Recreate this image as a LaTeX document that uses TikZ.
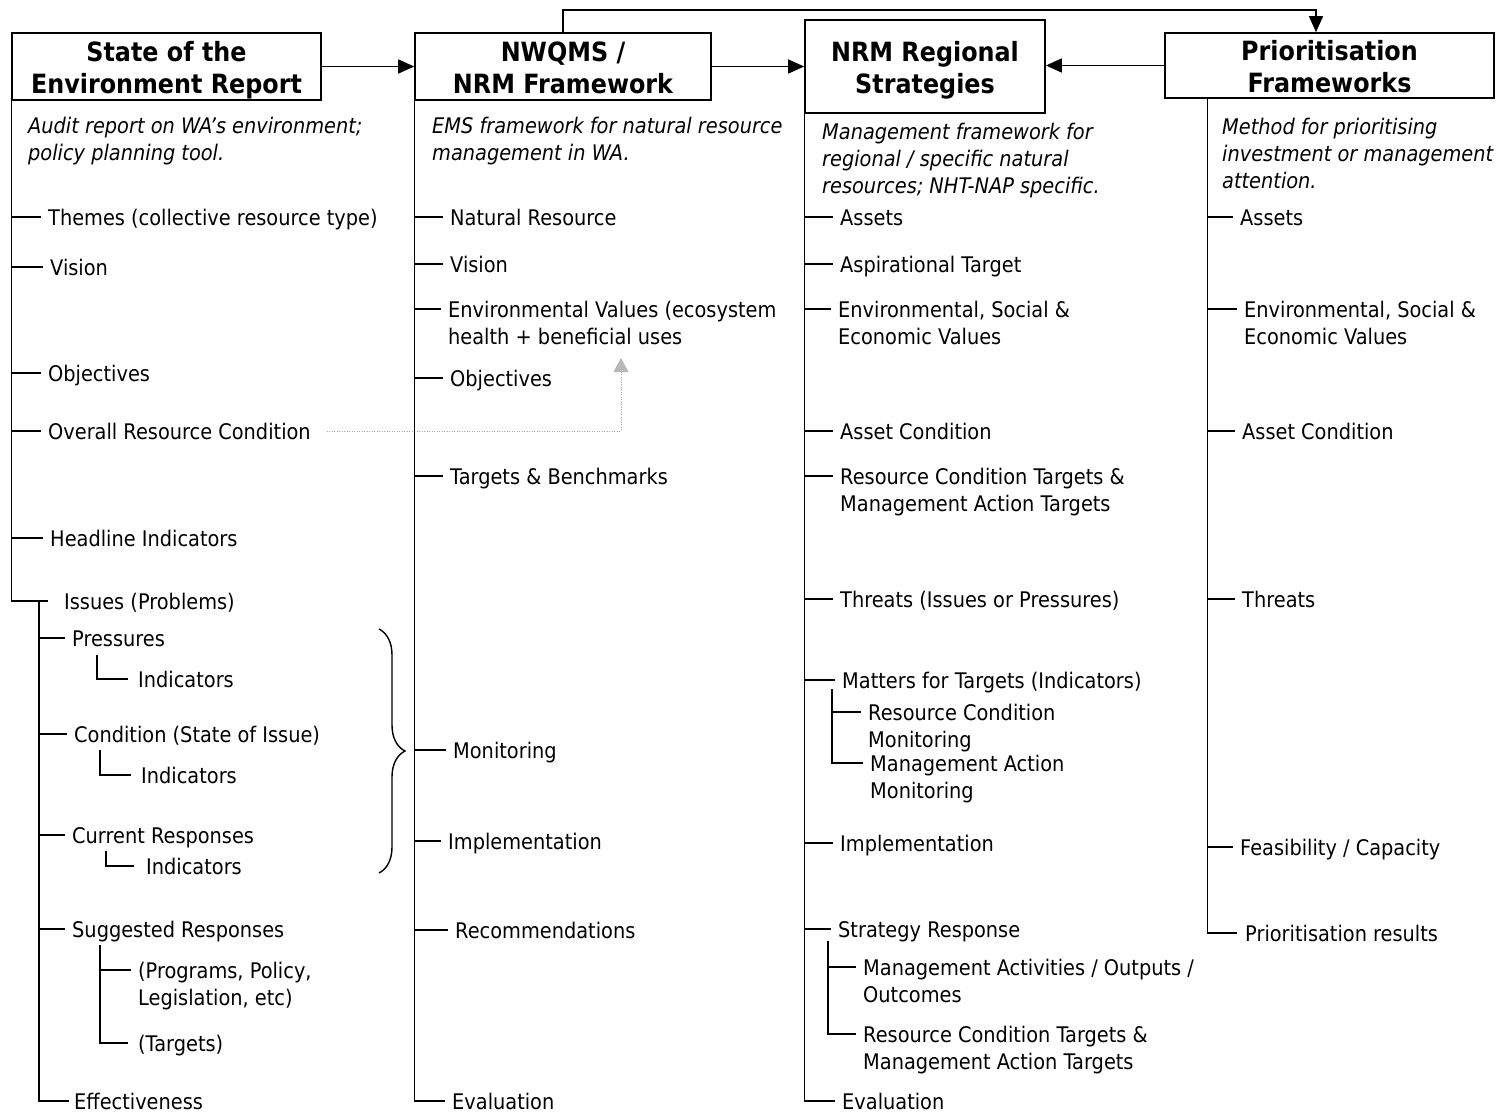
\documentclass[tikz,border=0pt]{standalone}
\usepackage{fontspec}
\setmainfont{DejaVu Sans}[FakeStretch=0.9]
\usetikzlibrary{arrows.meta,decorations.pathreplacing}
\newcommand\lblfont{\fontsize{21.5}{27}\selectfont}
\newcommand\dscfont{\fontsize{21.5}{27}\selectfont\itshape}
\newcommand\hdfont{\fontsize{26.5}{32}\selectfont\bfseries}
\newcommand\hdstrut{\rule{0pt}{27.5pt}}
\newcommand\hddepth{\rule[-5.5pt]{0pt}{5.5pt}}
% leaf: name, trunk coordinate, y (line centre), text x, text
\newcommand\leaf[5]{%
  \node[lbl] (#1) at (#4,#3+8) {#5};
  \coordinate (#1-in) at ([xshift=-7pt,yshift=8pt]#1.base west);
  \draw[tree] (#2 |- #1-in) -- (#1-in);}
% second line of a leaf: name, y of first line, text x, text
\newcommand\lcont[4]{\node[lbl] (#1) at (#3,#2+35) {#4};}
\begin{document}
\begin{tikzpicture}[x=1pt,y=-1pt,
  tree/.style={line width=1.4pt},
  lbl/.style={anchor=base west,inner sep=0pt,font=\lblfont},
  dsc/.style={anchor=base west,inner sep=0pt,font=\dscfont},
  hdr/.style={draw,line width=1.6pt,align=center,font=\hdfont,inner sep=0pt},
  arr/.style={line width=1.4pt,-{Triangle[length=16pt,width=14pt]}},
  gdot/.style={draw=black!35,line width=1pt,dash pattern=on 1pt off 1.5pt,
    -{Triangle[length=14pt,width=15pt,color=black!28,fill=black!28]}}]
\useasboundingbox (0,0) rectangle (1501,1114);
% ---------- header boxes ----------
\node[hdr,minimum width=309pt,minimum height=67pt] (soe) at (166.5,66.5) {\hdstrut State of the\\Environment Report\hddepth};
\node[hdr,minimum width=296pt,minimum height=67pt] (nw) at (563,66.5) {\hdstrut NWQMS /\\NRM Framework\hddepth};
\node[hdr,minimum width=240pt,minimum height=93pt] (nrm) at (925,66.5) {\hdstrut NRM Regional\\Strategies\hddepth};
\node[hdr,minimum width=329pt,minimum height=65pt] (pri) at (1329.5,65.5) {\hdstrut Prioritisation\\Frameworks\hddepth};
\draw[arr] (soe.east) -- (nw.west);
\draw[arr] (nw.east) -- (nrm.west);
\draw[arr] (pri.west) -- (nrm.east |- pri.west);
\coordinate (topc) at (1316,10);
\draw[arr] (nw.north) |- (topc) -- (topc |- pri.north);
% ---------- descriptions ----------
\node[dsc] (soeD1) at (28,133) {Audit report on WA’s environment;};
\node[dsc] (soeD2) at (28,160) {policy planning tool.};
\node[dsc] (nwD1) at (432,133) {EMS framework for natural resource};
\node[dsc] (nwD2) at (432,160) {management in WA.};
\node[dsc] (nrmD1) at (822,139) {Management framework for};
\node[dsc] (nrmD2) at (822,166) {regional / specific natural};
\node[dsc] (nrmD3) at (822,193) {resources; NHT-NAP specific.};
\node[dsc] (priD1) at (1222,134) {Method for prioritising};
\node[dsc] (priD2) at (1222,161) {investment or management};
\node[dsc] (priD3) at (1222,188) {attention.};
% ---------- State of the Environment column ----------
\leaf{s1}{soe.south west}{217}{48}{Themes (collective resource type)}
\leaf{s2}{soe.south west}{267}{50}{Vision}
\leaf{s3}{soe.south west}{373}{48}{Objectives}
\leaf{s4}{soe.south west}{431}{48}{Overall Resource Condition}
\leaf{s5}{soe.south west}{538}{50}{Headline Indicators}
\node[lbl] (iss) at (64,609) {Issues (Problems)};
\coordinate (iss-in) at ([xshift=-16pt,yshift=8pt]iss.base west);
\draw[tree] (soe.south west) |- (iss-in);
\coordinate (isT) at (39,601);
\leaf{p1}{isT}{638}{72}{Pressures}
\leaf{c1}{isT}{734}{74}{Condition (State of Issue)}
\leaf{r1}{isT}{835}{72}{Current Responses}
\leaf{g1}{isT}{929}{72}{Suggested Responses}
\node[lbl] (eff) at (74,1109) {Effectiveness};
\coordinate (eff-in) at ([xshift=-5pt,yshift=8pt]eff.base west);
\draw[tree] (isT) |- (eff-in);
% indicators
\node[lbl] (p2) at (138,687) {Indicators};
\draw[tree] ([xshift=25pt,yshift=-9pt]p1.base west) |- ([xshift=-10pt,yshift=8pt]p2.base west);
\node[lbl] (c2) at (141,783) {Indicators};
\draw[tree] ([xshift=26pt,yshift=-8pt]c1.base west) |- ([xshift=-10pt,yshift=8pt]c2.base west);
\node[lbl] (r2) at (146,874) {Indicators};
\draw[tree] ([xshift=34pt,yshift=-8pt]r1.base west) |- ([xshift=-12pt,yshift=8pt]r2.base west);
\coordinate (gT) at ([xshift=28pt,yshift=-8pt]g1.base west);
\leaf{g2}{gT}{970}{138}{(Programs, Policy,}
\lcont{g2b}{970}{138}{Legislation, etc)}
\node[lbl] (g3) at (138,1051) {(Targets)};
\coordinate (g3-in) at ([xshift=-10pt,yshift=8pt]g3.base west);
\draw[tree] (gT) |- (g3-in);
% brace
\draw[tree,decorate,decoration={brace,amplitude=26pt}] (379,629) -- (379,873);
% dotted link
\coordinate (s4e) at ([xshift=16pt,yshift=8pt]s4.base east);
\coordinate (evt) at (621,358);
\draw[gdot] (s4e) -| (evt);
% ---------- NWQMS column ----------
\leaf{n1}{nw.south west}{217}{450}{Natural Resource}
\leaf{n2}{nw.south west}{264}{450}{Vision}
\leaf{n3}{nw.south west}{309}{448}{Environmental Values (ecosystem}
\lcont{n3b}{309}{448}{health + beneficial uses}
\leaf{n4}{nw.south west}{378}{450}{Objectives}
\leaf{n5}{nw.south west}{476}{450}{Targets \& Benchmarks}
\leaf{n6}{nw.south west}{750}{453}{Monitoring}
\leaf{n7}{nw.south west}{841}{448}{Implementation}
\leaf{n8}{nw.south west}{930}{455}{Recommendations}
\node[lbl] (n9) at (452,1109) {Evaluation};
\coordinate (n9-in) at ([xshift=-7pt,yshift=8pt]n9.base west);
\draw[tree] (nw.south west) |- (n9-in);
% ---------- NRM column ----------
\leaf{m1}{nrm.south west}{217}{840}{Assets}
\leaf{m2}{nrm.south west}{264}{840}{Aspirational Target}
\leaf{m3}{nrm.south west}{309}{838}{Environmental, Social \&}
\lcont{m3b}{309}{838}{Economic Values}
\leaf{m4}{nrm.south west}{431}{840}{Asset Condition}
\leaf{m5}{nrm.south west}{476}{840}{Resource Condition Targets \&}
\lcont{m5b}{476}{840}{Management Action Targets}
\leaf{m6}{nrm.south west}{599}{840}{Threats (Issues or Pressures)}
\leaf{m7}{nrm.south west}{680}{842}{Matters for Targets (Indicators)}
\coordinate (m7T) at ([xshift=-10pt,yshift=-1pt]m7.base west);
\leaf{m7a}{m7T}{712}{868}{Resource Condition}
\lcont{m7ab}{712}{868}{Monitoring}
\leaf{m7c}{m7T}{763}{870}{Management Action}
\lcont{m7cb}{763}{870}{Monitoring}
\draw[tree] (m7T) |- (m7c-in);
\leaf{m8}{nrm.south west}{843}{840}{Implementation}
\leaf{m9}{nrm.south west}{929}{838}{Strategy Response}
\coordinate (m9T) at ([xshift=-10pt,yshift=-4pt]m9.base west);
\leaf{m9a}{m9T}{967}{863}{Management Activities / Outputs /}
\lcont{m9ab}{967}{863}{Outcomes}
\leaf{m9c}{m9T}{1034}{863}{Resource Condition Targets \&}
\lcont{m9cb}{1034}{863}{Management Action Targets}
\draw[tree] (m9T) |- (m9c-in);
\node[lbl] (m10) at (842,1109) {Evaluation};
\coordinate (m10-in) at ([xshift=-7pt,yshift=8pt]m10.base west);
\draw[tree] (nrm.south west) |- (m10-in);
% ---------- Prioritisation column ----------
\coordinate (priT) at ([xshift=43pt]pri.south west);
\leaf{q1}{priT}{217}{1240}{Assets}
\leaf{q2}{priT}{309}{1244}{Environmental, Social \&}
\lcont{q2b}{309}{1244}{Economic Values}
\leaf{q3}{priT}{431}{1242}{Asset Condition}
\leaf{q4}{priT}{599}{1242}{Threats}
\leaf{q5}{priT}{847}{1240}{Feasibility / Capacity}
\node[lbl] (q6) at (1245,941) {Prioritisation results};
\coordinate (q6-in) at ([xshift=-8pt,yshift=8pt]q6.base west);
\draw[tree] (priT) |- (q6-in);
\end{tikzpicture}
\end{document}
